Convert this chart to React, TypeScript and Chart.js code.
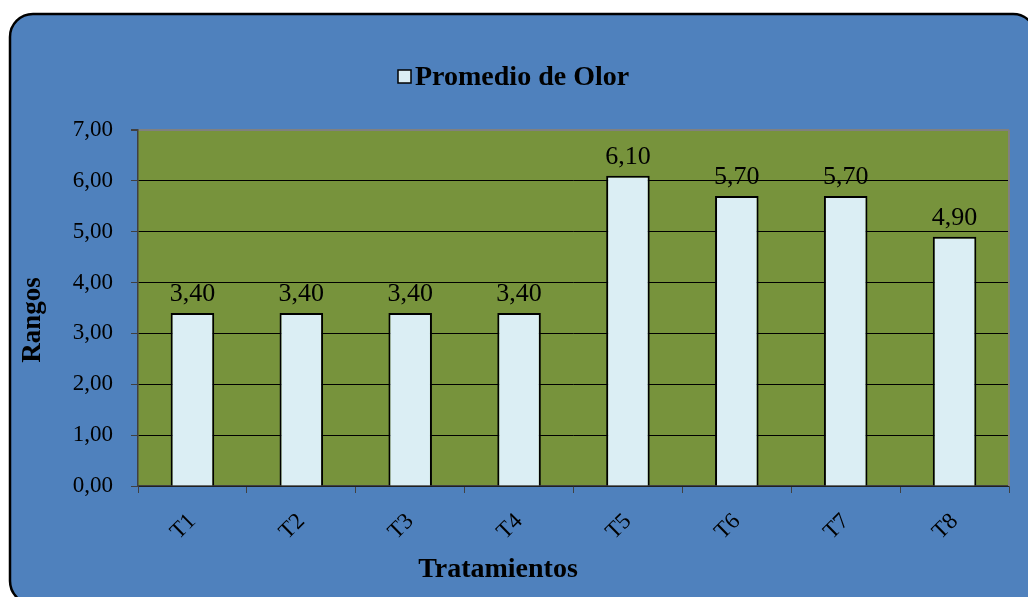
import React, { useEffect, useRef } from "react";
import { Chart, registerables } from "chart.js";

Chart.register(...registerables);

const categories = ["T1", "T2", "T3", "T4", "T5", "T6", "T7", "T8"];
const values = [3.4, 3.4, 3.4, 3.4, 6.1, 5.7, 5.7, 4.9];
const seriesLabel = "Promedio de Olor";
const yTitle = "Rangos";
const xTitle = "Tratamientos";

const FONT = "'Liberation Serif', 'Times New Roman', serif";
const BLUE = "#4F81BD";
const GREEN = "#77933C";
const BAR = "#DBEEF4";

const fmt = (v: number) => v.toFixed(2).replace(".", ",");

const decorPlugin = {
  id: "decor",
  beforeDraw(chart: any) {
    const { ctx, chartArea } = chart;
    ctx.save();
    ctx.fillStyle = "#ffffff";
    ctx.fillRect(0, 0, chart.width, chart.height);
    const x = 10, y = 14, w = 1026, h = 590, r = 23;
    ctx.beginPath();
    ctx.moveTo(x + r, y);
    ctx.lineTo(x + w - r, y);
    ctx.arcTo(x + w, y, x + w, y + r, r);
    ctx.lineTo(x + w, y + h - r);
    ctx.arcTo(x + w, y + h, x + w - r, y + h, r);
    ctx.lineTo(x + r, y + h);
    ctx.arcTo(x, y + h, x, y + h - r, r);
    ctx.lineTo(x, y + r);
    ctx.arcTo(x, y, x + r, y, r);
    ctx.closePath();
    ctx.fillStyle = BLUE;
    ctx.fill();
    ctx.lineWidth = 2.5;
    ctx.strokeStyle = "#000";
    ctx.stroke();
    ctx.fillStyle = GREEN;
    ctx.fillRect(chartArea.left, chartArea.top, chartArea.right - chartArea.left, chartArea.bottom - chartArea.top);
    ctx.restore();
  },
  afterDatasetsDraw(chart: any) {
    const { ctx, chartArea } = chart;
    ctx.save();
    ctx.strokeStyle = "#808080";
    ctx.lineWidth = 2;
    ctx.beginPath();
    ctx.moveTo(chartArea.right, chartArea.top);
    ctx.lineTo(chartArea.right, chartArea.bottom);
    ctx.stroke();
    const meta = chart.getDatasetMeta(0);
    const ds = chart.data.datasets[0];
    ctx.fillStyle = "#000";
    ctx.font = `26px ${FONT}`;
    ctx.textAlign = "center";
    ctx.textBaseline = "alphabetic";
    meta.data.forEach((bar: any, i: number) => {
      ctx.fillText(fmt(ds.data[i] as number), bar.x, bar.y - 12);
    });
    ctx.restore();
  },
  afterDraw(chart: any) {
    const { ctx } = chart;
    const ds = chart.data.datasets[0];
    ctx.save();
    // legend
    ctx.fillStyle = ds.backgroundColor;
    ctx.fillRect(398, 70, 13, 13);
    ctx.strokeStyle = "#000";
    ctx.lineWidth = 1.5;
    ctx.strokeRect(398, 70, 13, 13);
    ctx.fillStyle = "#000";
    ctx.font = `bold 28px ${FONT}`;
    ctx.textAlign = "left";
    ctx.textBaseline = "alphabetic";
    ctx.fillText(ds.label, 415, 85);
    // x title
    ctx.textAlign = "center";
    ctx.fillText(xTitle, 498, 577);
    // y title
    ctx.translate(33, 320);
    ctx.rotate(-Math.PI / 2);
    ctx.textBaseline = "middle";
    ctx.font = `bold 27px ${FONT}`;
    ctx.fillText(yTitle, 0, 0);
    ctx.restore();
  },
};

export default function App() {
  const ref = useRef<HTMLCanvasElement>(null);
  useEffect(() => {
    if (!ref.current) return;
    const chart = new Chart(ref.current, {
      type: "bar",
      data: {
        labels: categories,
        datasets: [
          {
            label: seriesLabel,
            data: values,
            backgroundColor: BAR,
            borderColor: "#000",
            borderWidth: 2,
            categoryPercentage: 1,
            barPercentage: 0.4,
          },
        ],
      },
      options: {
        responsive: false,
        animation: false,
        layout: { padding: { left: 10, right: 19, top: 130, bottom: 0 } },
        plugins: {
          legend: { display: false },
          tooltip: { enabled: false },
        },
        scales: {
          x: {
            afterFit: (s: any) => {
              s.height = 111;
            },
            grid: {
              offset: true,
              drawOnChartArea: false,
              drawTicks: true,
              tickLength: 7,
              color: "#404040",
            },
            border: { color: "#404040", width: 1.5 },
            ticks: {
              color: "#000",
              font: { family: FONT, size: 23 },
              minRotation: 45,
              maxRotation: 45,
              padding: 15,
            },
          },
          y: {
            min: 0,
            max: 7,
            afterFit: (s: any) => {
              s.width = 128;
            },
            grid: {
              color: (c: any) => (c.tick && c.tick.value === 7 ? "#808080" : "#000"),
              lineWidth: (c: any) => (c.tick && c.tick.value === 7 ? 2 : 1),
              tickLength: 7,
              tickColor: "#404040",
            },
            border: { color: "#404040", width: 1.5 },
            ticks: {
              stepSize: 1,
              color: "#000",
              font: { family: FONT, size: 23 },
              padding: 18,
              callback: (v: any) => fmt(Number(v)),
            },
          },
        },
      },
      plugins: [decorPlugin],
    });
    return () => chart.destroy();
  }, []);
  return (
    <div style={{ position: "absolute", left: 0, top: 0, width: 1028, height: 597 }}>
      <canvas ref={ref} width={1028} height={597} style={{ display: "block" }} />
    </div>
  );
}
